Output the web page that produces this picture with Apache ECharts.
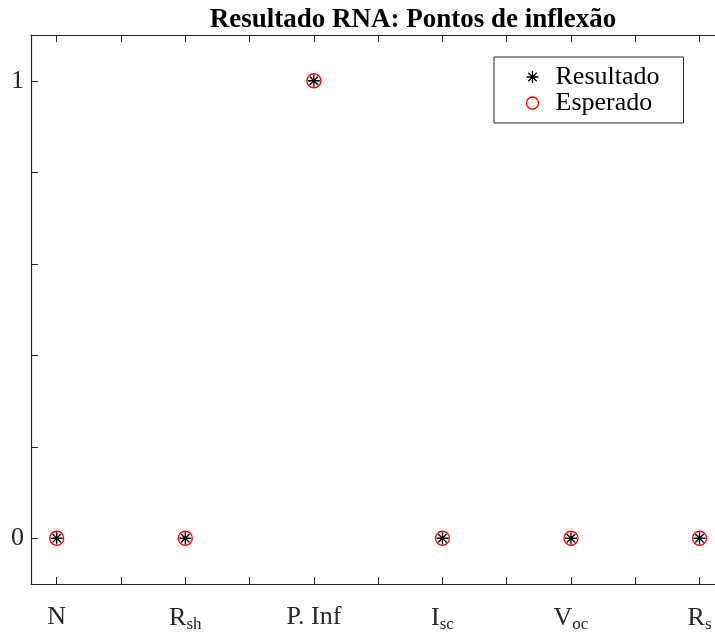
<!DOCTYPE html>
<html>
<head>
<meta charset="utf-8">
<script src="https://cdn.jsdelivr.net/npm/echarts@6/dist/echarts.min.js"></script>
<style>
  html, body { margin: 0; padding: 0; background: #fff; overflow: hidden; }
  #chart { width: 800px; height: 633px; }
</style>
</head>
<body>
<div id="chart"></div>
<script>
// categories on the x axis (text after "_" is a subscript)
const categories = ['N', 'R_sh', 'P. Inf', 'I_sc', 'V_oc', 'R_s']
const resultado = [0, 0, 1, 0, 0, 0]
const esperado = [0, 0, 1, 0, 0, 0]
const xTicks = [1, 1.5, 2, 2.5, 3, 3.5, 4, 4.5, 5, 5.5, 6, 6.5]
const xLabelValues = [1, 2, 3, 4, 5, 6]
const yTicks = [0, 0.2, 0.4, 0.6, 0.8, 1]
const yLabelValues = [0, 1]

const serif = 'Liberation Serif'
const axisColor = '#262626'
const asterisk = 'path://M5,0L5,10M0,5L10,5M1.5,1.5L8.5,8.5M1.5,8.5L8.5,1.5'

function richLabel(name) {
  const parts = name.split('_')
  if (parts.length < 2) return '{n|' + name + '}'
  return '{n|' + parts[0] + '}{s|' + parts[1] + '}'
}

// the plot box runs past the right edge of the 715px window, as in the reference
const myChart = echarts.init(document.getElementById('chart'))

myChart.setOption({
  animation: false,
  backgroundColor: '#fff',
  title: {
    text: 'Resultado RNA: Pontos de inflexão',
    left: 413,
    top: 0,
    textAlign: 'center',
    padding: [7, 0, 0, 0],
    textStyle: {
      fontFamily: serif,
      fontWeight: 'bold',
      fontSize: 27,
      color: '#000'
    }
  },
  legend: {
    orient: 'vertical',
    left: 494,
    top: 57,
    padding: [7, 24, 7, 30],
    itemGap: 0,
    itemWidth: 36,
    itemHeight: 12,
    borderColor: '#262626',
    borderWidth: 1,
    backgroundColor: '#fff',
    textStyle: {
      fontFamily: serif,
      fontSize: 26,
      lineHeight: 23,
      color: '#000'
    },
    data: [
      {
        name: 'Resultado',
        icon: asterisk,
        itemStyle: { color: 'none', borderColor: '#000', borderWidth: 1.3 }
      },
      {
        name: 'Esperado',
        icon: 'circle',
        itemStyle: { color: 'none', borderColor: '#ff0000', borderWidth: 1.3 }
      }
    ]
  },
  grid: {
    left: 31,
    right: 4,
    top: 35,
    bottom: 49
  },
  xAxis: [
    {
      type: 'value',
      position: 'bottom',
      min: 0.8,
      max: 6.75,
      splitLine: { show: false },
      axisLine: { show: true, onZero: false, lineStyle: { color: axisColor, width: 1.2 } },
      axisTick: { show: true, inside: true, length: 7, customValues: xTicks, lineStyle: { color: axisColor } },
      axisLabel: {
        customValues: xLabelValues,
        margin: 20,
        color: axisColor,
        formatter: v => richLabel(categories[Math.round(v) - 1]),
        rich: {
          n: { fontFamily: serif, fontSize: 26, color: axisColor },
          s: { fontFamily: serif, fontSize: 17, color: axisColor, padding: [12, 0, 0, 0] }
        }
      }
    },
    {
      type: 'value',
      position: 'top',
      min: 0.8,
      max: 6.75,
      splitLine: { show: false },
      axisLine: { show: true, onZero: false, lineStyle: { color: axisColor, width: 1.2 } },
      axisTick: { show: true, inside: true, length: 7, customValues: xTicks, lineStyle: { color: axisColor } },
      axisLabel: { show: false }
    }
  ],
  yAxis: {
    type: 'value',
    min: -0.1,
    max: 1.1,
    splitLine: { show: false },
    axisLine: { show: true, onZero: false, lineStyle: { color: axisColor, width: 1.2 } },
    axisTick: { show: true, inside: true, length: 7, customValues: yTicks, lineStyle: { color: axisColor } },
    axisLabel: {
      customValues: yLabelValues,
      margin: 7,
      padding: [10, 0, 0, 0],
      fontFamily: serif,
      fontSize: 26,
      color: axisColor
    }
  },
  series: [
    {
      name: 'Resultado',
      type: 'scatter',
      z: 3,
      symbol: asterisk,
      symbolSize: 12,
      symbolKeepAspect: true,
      itemStyle: { color: 'none', borderColor: '#000', borderWidth: 1.3, opacity: 1 },
      emphasis: { disabled: true },
      data: categories.map((c, i) => [i + 1, resultado[i]])
    },
    {
      name: 'Esperado',
      type: 'scatter',
      z: 2,
      symbol: 'circle',
      symbolSize: 14,
      itemStyle: { color: 'none', borderColor: '#ff0000', borderWidth: 1.3, opacity: 1 },
      emphasis: { disabled: true },
      data: categories.map((c, i) => [i + 1, esperado[i]])
    }
  ]
})
</script>
</body>
</html>
